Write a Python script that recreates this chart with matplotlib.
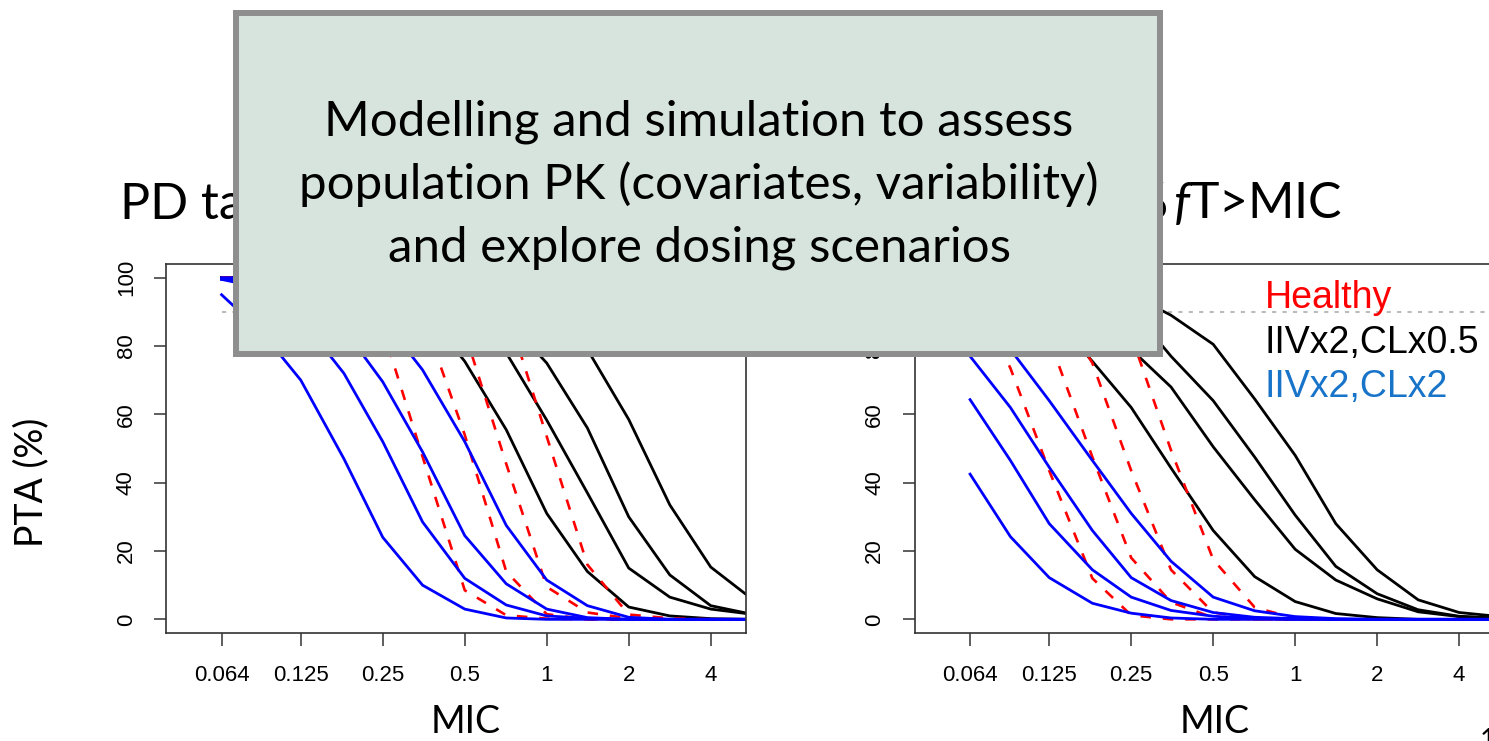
import matplotlib
matplotlib.use("Agg")
import matplotlib.pyplot as plt
from matplotlib.patches import Rectangle

# MIC grid and PTA (%) values
mic = [0.064, 0.09, 0.125, 0.18, 0.25, 0.35, 0.5, 0.71, 1, 1.41, 2, 2.83, 4, 5.66]
mic_ticks = [0.064, 0.125, 0.25, 0.5, 1, 2, 4]
mic_labels = ["0.064", "0.125", "0.25", "0.5", "1", "2", "4"]
pta_ticks = [0, 20, 40, 60, 80, 100]
target_pta = 90

# left panel
left_healthy = [
    [100, 100, 100, 98.5, 85, 47.6, 8.5, 1.2, 0.2, 0, 0, 0, 0, 0],
    [100, 100, 100, 100, 99, 89, 54, 14, 1.5, 0, 0, 0, 0, 0],
    [100, 100, 100, 100, 100, 99, 84, 45.5, 9.5, 2, 0.3, 0, 0, 0],
    [100, 100, 100, 100, 100, 100, 99, 91, 53.5, 16, 1.4, 0.3, 0, 0],
]
left_cl_half = [
    [100, 100, 100, 100, 98, 91, 75.5, 55.5, 31, 14, 3.6, 1, 0.2, 0],
    [100, 100, 100, 100, 100, 99, 93, 78, 58.3, 37, 15, 6.5, 3, 1.5],
    [100, 100, 100, 100, 100, 100, 99, 88, 75, 56, 30, 13, 4, 1.5],
    [100, 100, 100, 100, 100, 100, 99.5, 98, 92, 79, 58.5, 33.5, 15.3, 6],
]
left_cl_double = [
    [95, 84, 70, 47, 24, 10, 3, 0.4, 0, 0, 0, 0, 0, 0],
    [99.5, 97, 88, 72, 52, 28.5, 12, 4.2, 1, 0.3, 0, 0, 0, 0],
    [99.5, 99, 96, 85, 69.5, 49, 24.5, 10.4, 3, 0.5, 0, 0, 0, 0],
    [100, 100, 99, 96, 88, 73, 52, 27.5, 11.5, 4, 0.6, 0, 0, 0],
]

# right panel
right_healthy = [
    [98, 73.5, 43.5, 12, 1.2, 0, 0, 0, 0, 0, 0, 0, 0, 0],
    [100, 97, 82, 47.5, 18, 5, 0.5, 0, 0, 0, 0, 0, 0, 0],
    [100, 99.5, 96, 75, 43.5, 14.5, 2, 0.3, 0, 0, 0, 0, 0, 0],
    [100, 100, 99, 94, 83, 49.5, 17.5, 3.5, 0.3, 0, 0, 0, 0, 0],
]
right_cl_half = [
    [100, 98, 90, 75.5, 62, 44.3, 26, 12.5, 5.2, 1.7, 0.5, 0, 0, 0],
    [100, 100, 97, 90, 79, 68, 50.5, 35, 20.5, 11.5, 6, 2.2, 0.8, 0.3],
    [100, 100, 100, 97, 91, 77, 64, 47.5, 30.5, 15.5, 7.5, 2.8, 0.9, 0.3],
    [100, 100, 100, 100, 95, 89, 80.5, 64.5, 48, 28, 14.5, 5.7, 2, 0.8],
]
right_cl_double = [
    [42.5, 24.2, 12.2, 4.7, 1.8, 0.4, 0, 0, 0, 0, 0, 0, 0, 0],
    [64.3, 46.5, 28, 14.5, 6.5, 2.6, 0.9, 0.3, 0, 0, 0, 0, 0, 0],
    [77, 62, 44.5, 26, 12.2, 5.5, 2, 0.6, 0.2, 0, 0, 0, 0, 0],
    [94, 79, 64, 46.5, 31, 17, 6.5, 2.5, 0.8, 0.2, 0, 0, 0, 0],
]

legend_labels = ["Healthy", "IIVx2,CLx0.5", "IIVx2,CLx2"]
legend_colors = ["#FF0000", "#000000", "#1874C8"]

plt.rcParams["mathtext.fontset"] = "custom"
plt.rcParams["mathtext.rm"] = "Lato"
plt.rcParams["mathtext.it"] = "Lato:italic"

W, H = 1489, 741
fig = plt.figure(figsize=(W / 100, H / 100), dpi=100)


def fx(x):
    return x / W


def fy(y):
    return 1 - y / H


def make_axes(x0, x1, xlim, right_spine=True):
    """ Axes placed by pixel edges, R base-graphics look. """
    ax = fig.add_axes([fx(x0), fy(633), (x1 - x0) / W, (633 - 264) / H])
    ax.set_xscale("log", base=2)
    ax.set_xlim(*xlim)
    ax.set_ylim(-4, 104)
    ax.set_xticks(mic_ticks)
    ax.set_xticklabels(mic_labels, family="Liberation Sans", fontsize=16)
    ax.xaxis.set_minor_locator(matplotlib.ticker.NullLocator())
    ax.set_yticks(pta_ticks)
    ax.set_yticklabels([str(t) for t in pta_ticks], family="Liberation Sans",
                       fontsize=16, rotation=90, va="center")
    ax.tick_params(axis="x", length=9, width=1.1, pad=14, colors="#333333",
                   labelcolor="black")
    ax.tick_params(axis="y", length=9, width=1.1, pad=12, colors="#333333",
                   labelcolor="black")
    for sp in ax.spines.values():
        sp.set_linewidth(1.2)
        sp.set_color("#333333")
    ax.spines["right"].set_visible(right_spine)
    return ax


ax_l = make_axes(166, 746, (0.040, 5.39))
ax_r = make_axes(914.5, 1489, (0.040, 5.15), right_spine=False)


def draw_panel(ax, healthy, cl_half, cl_double):
    ax.plot([mic[0], mic[-1]], [target_pta, target_pta], color="#BBBBBB",
            lw=1.5, ls=(0, (2, 3)))
    for ys in cl_half:
        ax.plot(mic, ys, color="black", lw=2.0)
    for ys in healthy:
        ax.plot(mic, ys, color="#FF0000", lw=1.9, ls=(0, (4, 4.5)))
    for ys in cl_double:
        ax.plot(mic, ys, color="#0000FF", lw=2.0)


draw_panel(ax_l, left_healthy, left_cl_half, left_cl_double)
draw_panel(ax_r, right_healthy, right_cl_half, right_cl_double)

# legend text in the right panel
for i, (lab, col) in enumerate(zip(legend_labels, legend_colors)):
    fig.text(fx(1265), fy(308 + 44.5 * i), lab, color=col, fontsize=27,
             family="Liberation Sans", va="baseline", ha="left")

# slide text: axis titles, panel title (partly hidden by the call-out box)
fig.text(fx(31), fy(482), "PTA (%)", rotation=90, fontsize=27, family="Lato",
         ha="center", va="center")
fig.text(fx(466), fy(722), "MIC", fontsize=27, family="Lato", ha="center", va="center")
fig.text(fx(1215), fy(722), "MIC", fontsize=27, family="Lato", ha="center", va="center")
fig.text(fx(120), fy(218), "PD target", fontsize=36, family="Lato",
         ha="left", va="baseline", zorder=2)
fig.text(fx(1169), fy(218), "100%", fontsize=36, family="Lato",
         ha="right", va="baseline", zorder=2)
fig.text(fx(1342), fy(218), r"$\mathit{f}$T>MIC", fontsize=36, family="Lato",
         ha="right", va="baseline", zorder=2)
fig.text(fx(1480), fy(728), "1", fontsize=20, family="Lato", ha="left", va="top")

# overlay call-out box
fig.add_artist(Rectangle((fx(236), fy(354)), (1160 - 236) / W, (354 - 13) / H,
                         transform=fig.transFigure, facecolor="#D6E4DD",
                         edgecolor="#8E8E8E", lw=4.3, zorder=5))
box_lines = ["Modelling and simulation to assess",
             "population PK (covariates, variability)",
             "and explore dosing scenarios"]
for i, line in enumerate(box_lines):
    fig.text(fx(699), fy(136 + 63 * i), line, fontsize=35.5, family="Lato",
             ha="center", va="baseline", zorder=6)

fig.savefig("out.png", dpi=100)
